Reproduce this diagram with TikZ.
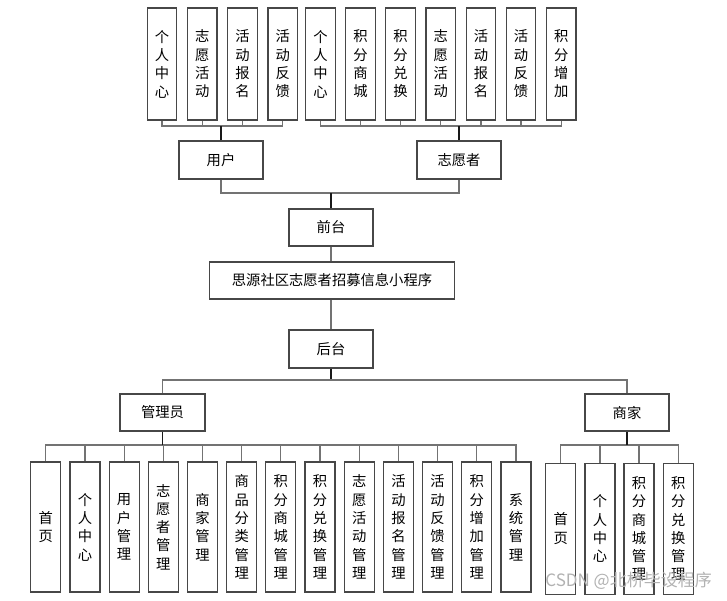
\documentclass[tikz,border=0pt]{standalone}
\usepackage{fontspec}
\newfontfamily\cjk{Noto Sans CJK SC}
\begin{document}
\begin{tikzpicture}[x=1pt,y=-1pt]
\tikzset{
 box/.style={draw=black!72, line width=1.2pt, fill=white, inner sep=0pt, font=\cjk\fontsize{14.3}{18.3}\selectfont, align=center},
 tbox/.style={box, minimum width=29.5pt, minimum height=112pt},
 bbox/.style={box, minimum width=30pt, minimum height=130pt},
 mbox/.style={box, minimum width=30pt, minimum height=131pt},
 hbox/.style={box, minimum width=84pt, minimum height=38pt},
 conn/.style={draw=black!55, line width=1.2pt},
 trunk/.style={draw=black!90, line width=1.8pt},
}
\useasboundingbox (0,0) rectangle (727,600);
% top level: user children
\node[tbox] (u1) at (162,64) {个\\人\\中\\心};
\node[tbox] (u2) at (202.3,64) {志\\愿\\活\\动};
\node[tbox] (u3) at (242.5,64) {活\\动\\报\\名};
\node[tbox] (u4) at (282.7,64) {活\\动\\反\\馈};
% volunteer children
\node[tbox] (v1) at (320.5,64) {个\\人\\中\\心};
\node[tbox] (v2) at (360.5,64) {积\\分\\商\\城};
\node[tbox] (v3) at (400.5,64) {积\\分\\兑\\换};
\node[tbox] (v4) at (440.7,64) {志\\愿\\活\\动};
\node[tbox] (v5) at (481,64) {活\\动\\报\\名};
\node[tbox] (v6) at (521,64) {活\\动\\反\\馈};
\node[tbox] (v7) at (561.3,64) {积\\分\\增\\加};
% roles
\node[hbox] (user) at (221,160) {用户};
\node[hbox] (vol) at (459,160) {志愿者};
\node[hbox, minimum height=37pt] (qt) at (331,227.5) {前台};
\node[box, minimum width=245pt, minimum height=37pt] (title) at (332,280.5) {思源社区志愿者招募信息小程序};
\node[hbox] (ht) at (331,349) {后台};
\node[hbox, minimum width=85pt, minimum height=37pt] (admin) at (162.5,412.5) {管理员};
\node[hbox, minimum height=37pt] (merch) at (627,412.5) {商家};
% admin children
\node[bbox] (a1) at (45.7,527) {首\\页};
\node[bbox] (a2) at (84.9,527) {个\\人\\中\\心};
\node[bbox] (a3) at (124.1,527) {用\\户\\管\\理};
\node[bbox] (a4) at (163.3,527) {志\\愿\\者\\管\\理};
\node[bbox] (a5) at (202.5,527) {商\\家\\管\\理};
\node[bbox] (a6) at (241.7,527) {商\\品\\分\\类\\管\\理};
\node[bbox] (a7) at (280.8,527) {积\\分\\商\\城\\管\\理};
\node[bbox] (a8) at (320,527) {积\\分\\兑\\换\\管\\理};
\node[bbox] (a9) at (359.2,527) {志\\愿\\活\\动\\管\\理};
\node[bbox] (a10) at (398.4,527) {活\\动\\报\\名\\管\\理};
\node[bbox] (a11) at (437.6,527) {活\\动\\反\\馈\\管\\理};
\node[bbox] (a12) at (476.8,527) {积\\分\\增\\加\\管\\理};
\node[bbox] (a13) at (516,527) {系\\统\\管\\理};
% merchant children
\node[mbox] (m1) at (560.7,528.6) {首\\页};
\node[mbox] (m2) at (600,528.6) {个\\人\\中\\心};
\node[mbox] (m3) at (639,528.6) {积\\分\\商\\城\\管\\理};
\node[mbox] (m4) at (678.3,528.6) {积\\分\\兑\\换\\管\\理};
% bus coordinates
\coordinate (ubus) at (221,126);
\coordinate (vbus) at (459,126);
\coordinate (fbus) at (331,193);
\coordinate (bbus) at (331,380);
\coordinate (abus) at (162.5,445);
\coordinate (mbus) at (627,445);
% connectors: user
\draw[conn] (u1.south) |- (ubus) -| (u4.south);
\foreach \n in {u2,u3} \draw[conn] (\n.south) -- (\n.south |- ubus);
\draw[trunk] (user.north) -- (ubus);
% connectors: volunteer
\draw[conn] (v1.south) |- (vbus) -| (v7.south);
\foreach \n in {v2,v3,v4,v5,v6} \draw[conn] (\n.south) -- (\n.south |- vbus);
\draw[trunk] (vol.north) -- (vbus);
% front end
\draw[conn] (user.south) |- (fbus) -| (vol.south);
\draw[trunk] (fbus) -- (qt.north);
\draw[conn] (qt.south) -- (title.north -| qt.south);
\draw[conn] (title.south -| ht.north) -- (ht.north);
% back end
\draw[trunk] (ht.south) -- (bbus);
\draw[conn] (admin.north) |- (bbus) -| (merch.north);
% admin children
\draw[conn] (a1.north) |- (abus) -| (a13.north);
\foreach \n in {a2,a3,a4,a5,a6,a7,a8,a9,a10,a11,a12} \draw[conn] (\n.north) -- (\n.north |- abus);
\draw[trunk] (admin.south) -- (abus);
% merchant children
\draw[conn] (m1.north) |- (mbus) -| (m4.north);
\foreach \n in {m2,m3} \draw[conn] (\n.north) -- (\n.north |- mbus);
\draw[trunk] (merch.south) -- (mbus);
% watermark
\node[text=black!30, font=\cjk\fontsize{17}{17}\selectfont, inner sep=0pt, anchor=east] (wm) at (712,581) {CSDN @北桥毕设程序};
\end{tikzpicture}
\end{document}
